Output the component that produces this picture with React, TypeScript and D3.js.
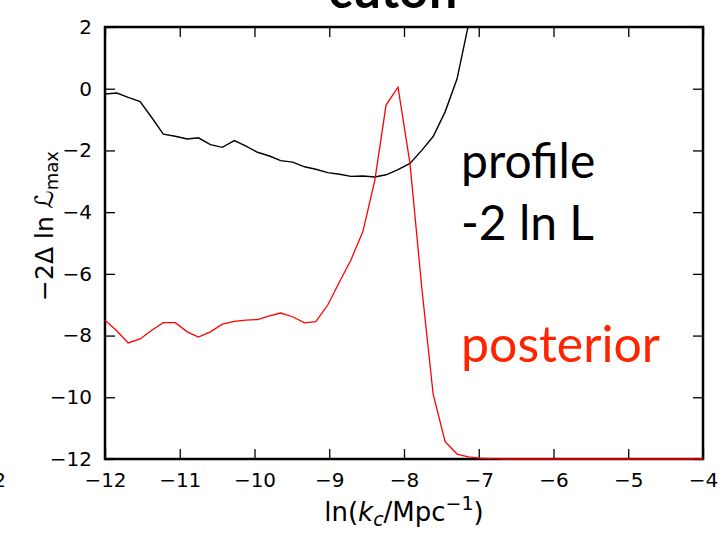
import React, { useEffect, useRef } from 'react';
import * as d3 from 'd3';

// ln(k_c / Mpc^-1) grid
const kValues = [
  -12.0, -11.84, -11.69, -11.53, -11.37, -11.22, -11.06, -10.9, -10.75, -10.59,
  -10.43, -10.27, -10.12, -9.96, -9.8, -9.65, -9.49, -9.33, -9.18, -9.02,
  -8.86, -8.71, -8.55, -8.39, -8.24, -8.08, -7.92, -7.76, -7.61, -7.45,
  -7.29, -7.14, -6.98, -6.82, -6.67, -6.51, -6.35, -6.2, -6.04, -5.88,
  -5.73, -5.57, -5.41, -5.25, -5.1, -4.94, -4.78, -4.63, -4.47, -4.31,
  -4.16, -4.0
];

// profile -2 ln L (black), runs off the top after ~ -7.1
const profile = [
  -0.17, -0.14, -0.28, -0.42, -0.95, -1.47, -1.54, -1.63, -1.59, -1.81,
  -1.9, -1.68, -1.85, -2.06, -2.18, -2.33, -2.38, -2.53, -2.61, -2.72,
  -2.77, -2.84, -2.83, -2.86, -2.79, -2.62, -2.42, -1.99, -1.55, -0.75,
  0.32, 2.05, 4.2
];

// posterior (red)
const posterior = [
  -7.5, -7.85, -8.24, -8.11, -7.82, -7.58, -7.58, -7.88, -8.05, -7.88,
  -7.63, -7.54, -7.5, -7.48, -7.36, -7.27, -7.39, -7.59, -7.55, -7.01,
  -6.25, -5.55, -4.63, -2.96, -0.53, 0.05, -2.42, -6.5, -9.9, -11.44,
  -11.84, -11.93, -11.97, -11.99, -12.0, -12.0, -12.0, -12.0, -12.0, -12.0,
  -12.0, -12.0, -12.0, -12.0, -12.0, -12.0, -12.0, -12.0, -12.0, -12.0,
  -12.0, -12.0
];

const xTicks = [-12, -11, -10, -9, -8, -7, -6, -5, -4];
const yTicks = [2, 0, -2, -4, -6, -8, -10, -12];

function App() {
  const chartRef = useRef<SVGSVGElement>(null);

  useEffect(() => {
    var width = 722,
      height = 533,
      margin = { top: 27, right: 19, bottom: 74, left: 105 };

    var svg = d3.select(chartRef.current);
    svg.selectAll('*').remove();

    var x = d3.scaleLinear().domain([-12, -4]).range([margin.left, width - margin.right]);
    var y = d3.scaleLinear().domain([-12, 2]).range([height - margin.bottom, margin.top]);

    var tickFont = 'DejaVu Sans, sans-serif';

    // axes, ticks pointing inward on all four sides
    var bottom = svg.append('g')
      .attr('transform', 'translate(0,' + (height - margin.bottom) + ')')
      .call(d3.axisBottom(x).tickValues(xTicks).tickSize(-10).tickPadding(14));
    var left = svg.append('g')
      .attr('transform', 'translate(' + margin.left + ',0)')
      .call(d3.axisLeft(y).tickValues(yTicks).tickSize(-10).tickPadding(13));
    var top = svg.append('g')
      .attr('transform', 'translate(0,' + margin.top + ')')
      .call(d3.axisTop(x).tickValues(xTicks).tickSize(-10).tickFormat(() => ''));
    var right = svg.append('g')
      .attr('transform', 'translate(' + (width - margin.right) + ',0)')
      .call(d3.axisRight(y).tickValues(yTicks).tickSize(-10).tickFormat(() => ''));

    [bottom, left, top, right].forEach(function (g) {
      g.select('.domain').remove();
      g.selectAll('line').attr('stroke', '#000').attr('stroke-width', 1.3);
      g.selectAll('text')
        .attr('fill', '#000')
        .style('font-family', tickFont)
        .style('font-size', '20px');
    });

    // frame
    svg.append('rect')
      .attr('x', margin.left)
      .attr('y', margin.top)
      .attr('width', width - margin.left - margin.right)
      .attr('height', height - margin.top - margin.bottom)
      .attr('fill', 'none')
      .attr('stroke', '#000')
      .attr('stroke-width', 2.5);

    // clip to the plot area
    svg.append('clipPath')
      .attr('id', 'plot-clip')
      .append('rect')
      .attr('x', margin.left)
      .attr('y', margin.top)
      .attr('width', width - margin.left - margin.right)
      .attr('height', height - margin.top - margin.bottom + 1);

    var line = d3.line<number>()
      .x(function (d, i) { return x(kValues[i]); })
      .y(function (d) { return y(d); });

    svg.append('path')
      .attr('clip-path', 'url(#plot-clip)')
      .attr('d', line(profile))
      .attr('fill', 'none')
      .attr('stroke', '#000')
      .attr('stroke-width', 1.4);

    svg.append('path')
      .attr('clip-path', 'url(#plot-clip)')
      .attr('d', line(posterior))
      .attr('fill', 'none')
      .attr('stroke', '#ff0000')
      .attr('stroke-width', 1.3);

    // in-plot labels
    var label = function (txt: string, ty: number, color: string, size: number) {
      svg.append('text')
        .attr('x', 461)
        .attr('y', ty)
        .attr('fill', color)
        .style('font-family', 'Lato, sans-serif')
        .style('font-size', size + 'px')
        .text(txt);
    };
    label('profile', 178, '#000', 48);
    label('-2 ln L', 240, '#000', 48);
    label('posterior', 362, '#ff2400', 50);

    // title, mostly cut off by the top edge
    svg.append('text')
      .attr('x', 395)
      .attr('y', 8)
      .attr('text-anchor', 'middle')
      .style('font-family', 'Lato, sans-serif')
      .style('font-weight', 'bold')
      .style('font-size', '50px')
      .text('cutoff');

    // stray tick label from the neighbouring panel
    svg.append('text')
      .attr('x', 6)
      .attr('y', 487)
      .attr('text-anchor', 'end')
      .style('font-family', tickFont)
      .style('font-size', '20px')
      .text('2');

    // x label
    var xl = svg.append('text')
      .attr('x', 404)
      .attr('y', 521)
      .attr('text-anchor', 'middle')
      .style('font-family', tickFont)
      .style('font-size', '26px');
    xl.append('tspan').text('ln(');
    xl.append('tspan').style('font-style', 'italic').text('k');
    xl.append('tspan').style('font-style', 'italic').style('font-size', '19px').attr('dy', 5).text('c');
    xl.append('tspan').attr('dy', -5).text('/Mpc');
    xl.append('tspan').style('font-size', '19px').attr('dy', -11).text('\u22121');
    xl.append('tspan').attr('dy', 11).text(')');

    // y label
    var yl = svg.append('text')
      .attr('transform', 'translate(53,' + 226 + ') rotate(-90)')
      .attr('text-anchor', 'middle')
      .style('font-family', tickFont)
      .style('font-size', '25px');
    yl.append('tspan').text('\u22122\u0394 ln \u2112');
    yl.append('tspan').style('font-size', '18px').attr('dy', 5).text('max');
  }, []);

  return (
    <svg
      ref={chartRef}
      width={722}
      height={533}
      style={{ position: 'absolute', left: 0, top: 0, background: '#fff' }}
    />
  );
}

export default App;
